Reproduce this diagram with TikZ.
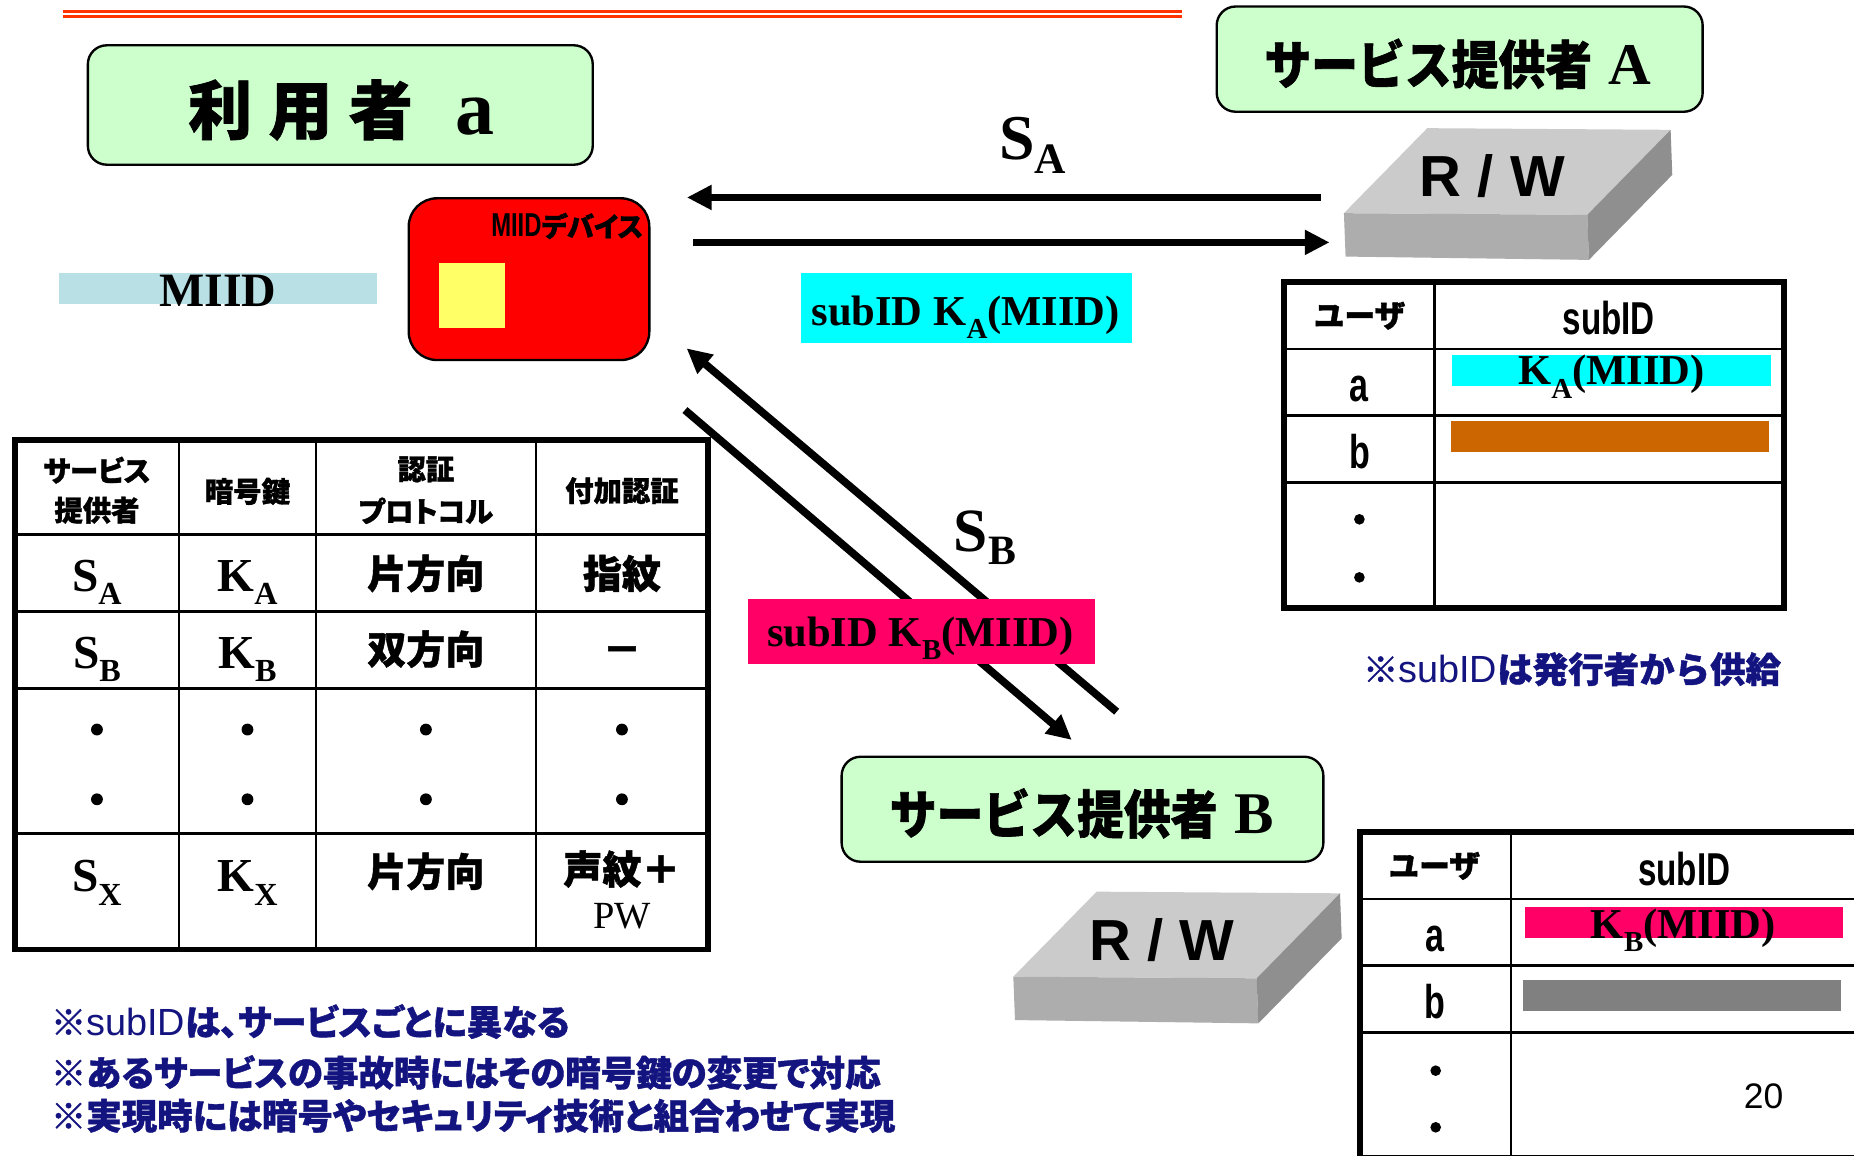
\documentclass[tikz,border=0pt]{standalone}
\usepackage{fontspec}
\usepackage{graphicx}
\usetikzlibrary{arrows.meta}
\setmainfont{Liberation Serif}
\newfontfamily\jp{Noto Sans CJK JP}[BoldFeatures={FakeBold=1.2}]
\newfontfamily\jpp{Noto Sans CJK JP}[RawFeature=+palt,BoldFeatures={FakeBold=1.2}]
\newfontfamily\jpc{Noto Sans CJK JP}[FakeStretch=0.9,BoldFeatures={FakeBold=1.2}]
\newfontfamily\tms{Liberation Serif}
\newfontfamily\asf{Liberation Sans}
\newfontfamily\nsf{Liberation Sans}[FakeStretch=0.72]
\newcommand\fsz[1]{\fontsize{#1pt}{#1pt}\selectfont}
% lowered, shrunk subscript letter
\newcommand\lsub[2][0.28]{\raisebox{-#1em}{\scalebox{0.68}{#2}}}

\definecolor{boxgreen}{RGB}{204,255,204}
\definecolor{miidblue}{RGB}{185,224,228}
\definecolor{chipyellow}{RGB}{255,255,102}
\definecolor{cyanbar}{RGB}{0,255,255}
\definecolor{magentabar}{RGB}{255,0,102}
\definecolor{orangebar}{RGB}{204,102,0}
\definecolor{graybar}{RGB}{128,128,128}
\definecolor{rwtop}{RGB}{203,203,203}
\definecolor{rwfront}{RGB}{173,173,173}
\definecolor{rwside}{RGB}{143,143,143}
\definecolor{navy}{RGB}{20,20,128}
\definecolor{titlered}{RGB}{255,51,0}

\begin{document}
\begin{tikzpicture}[x=1pt,y=-1pt,
  txt/.style={inner sep=0pt,outer sep=0pt},
  greenbox/.style={draw=black,line width=2pt,fill=boxgreen,rounded corners=16pt,inner sep=0pt},
  bigarrow/.style={line width=6.5pt,-{Triangle[length=21pt,width=20pt]}},
  outerframe/.style={line width=4.8pt},
  innerline/.style={line width=2.3pt},
  dotmark/.style={circle,fill=black,inner sep=0pt,minimum size=9pt},
  bar/.style={inner sep=0pt,outer sep=0pt},
  note/.style={txt,anchor=west,text=navy,font=\jpp\bfseries\fsz{30}},
]
\useasboundingbox (0,0) rectangle (1568,977);
\clip (0,0) rectangle (1568,977);
\fill[white] (0,0) rectangle (1568,977);

% heading rule
\draw[titlered,line width=2.5pt] (53,9.6) -- (1000,9.6);
\draw[titlered,line width=2.5pt] (53,13.8) -- (1000,13.8);

% ---------- user side ----------
\node[greenbox,minimum width=427pt,minimum height=101pt] (userbox) at (287.8,88.8) {};
\node[txt,font=\jp\bfseries\fsz{54}] (usertxt) at (288.7,93)
  {利\hspace{14pt}用\hspace{14pt}者\hspace{36pt}{\tms\fsz{66}a}};

\node[bar,fill=miidblue,minimum width=268.6pt,minimum height=25.9pt] (miidbar) at (184.6,244.2) {};
\node[txt,anchor=base,font=\tms\bfseries\fsz{40.5}] (miidtxt) at (184.2,259.4) {MIID};

\node[draw=black,line width=2pt,fill=red,rounded corners=24pt,minimum width=203.5pt,minimum height=136.8pt] (device) at (447.4,236.1) {};
\node[bar,fill=chipyellow,minimum width=55.7pt,minimum height=54.9pt] (chip) at (399.2,249.7) {};
\node[txt,anchor=base east] (devtxt) at (544,200.2)
  {{\nsf\bfseries\fsz{28}MIID}{\jpp\bfseries\fsz{23}デバイス}};

% ---------- provider A ----------
\node[greenbox,minimum width=411pt,minimum height=89pt] (provA) at (1234.5,50) {};
\node[txt,font=\jpc\bfseries\fsz{44}] (provAtxt) at (1233,54)
  {サービス提供者\hspace{14pt}{\tms\fsz{50}A}};

\begin{scope}[shift={(1136.6,180.3)}]
  \fill[rwtop] (0,0) -- (205.8,1.4) -- (276.3,-70.5) -- (70.5,-71.9) -- cycle;
  \fill[rwfront] (0,0) -- (205.8,1.4) -- (207.2,39.5) -- (1.4,36.7) -- cycle;
  \fill[rwside] (205.8,1.4) -- (276.3,-70.5) -- (277.7,-32.4) -- (207.2,39.5) -- cycle;
  \node[txt,font=\asf\bfseries\fsz{49}] (rwA) at (125.5,-31) {R / W};
\end{scope}

% ---------- provider B ----------
\node[greenbox,minimum width=407.4pt,minimum height=88.8pt] (provB) at (915.5,684.4) {};
\node[txt,font=\jpc\bfseries\fsz{44}] (provBtxt) at (914.8,688)
  {サービス提供者\hspace{14pt}{\tms\fsz{50}B}};

\begin{scope}[shift={(857,826)}]
  \fill[rwtop] (0,0) -- (205.8,1.4) -- (276.3,-70.5) -- (70.5,-71.9) -- cycle;
  \fill[rwfront] (0,0) -- (205.8,1.4) -- (207.2,39.5) -- (1.4,36.7) -- cycle;
  \fill[rwside] (205.8,1.4) -- (276.3,-70.5) -- (277.7,-32.4) -- (207.2,39.5) -- cycle;
  \node[txt,font=\asf\bfseries\fsz{49}] (rwB) at (125.5,-31) {R / W};
\end{scope}

% ---------- exchanges ----------
\coordinate (saFrom) at (1117,167);
\coordinate (saTo) at (580.9,167);
\coordinate (kaFrom) at (586.5,205);
\coordinate (kaTo) at (1124.5,205);
\draw[bigarrow] (saFrom) -- (saTo);
\draw[bigarrow] (kaFrom) -- (kaTo);
\node[txt,anchor=base,font=\tms\bfseries\fsz{54}] (sA) at (873.5,135.3) {S\lsub[0.21]{A}};

\node[bar,fill=cyanbar,minimum width=280.2pt,minimum height=58.6pt] (kaLabelBox) at (817.2,260.5) {};
\node[txt,anchor=base,font=\tms\bfseries\fsz{36}] (kaLabel) at (816.7,275)
  {subID K\lsub[0.31]{A}(MIID)};

\coordinate (sbFrom) at (944.4,601.9);
\coordinate (sbTo) at (580.7,294.6);
\coordinate (kbFrom) at (579.3,346.8);
\coordinate (kbTo) at (906.4,625.8);
\draw[bigarrow] (sbFrom) -- (sbTo);
\draw[bigarrow] (kbFrom) -- (kbTo);
\node[txt,anchor=base,font=\tms\bfseries\fsz{52}] (sB) at (833,466.6) {S\lsub[0.21]{B}};

\node[bar,fill=magentabar,minimum width=293.1pt,minimum height=54.9pt] (kbLabelBox) at (779.5,534.4) {};
\node[txt,anchor=base,font=\tms\bfseries\fsz{36}] (kbLabel) at (778.4,547)
  {subID K\lsub[0.31]{B}(MIID)};

% ---------- service table ----------
\draw[outerframe] (12.5,372) rectangle (598.5,803);
\foreach \cx in {151.4,267.2,453.2} \draw[innerline] (\cx,372) -- (\cx,803);
\foreach \ry in {452,517,582,705} \draw[innerline] (12.5,\ry) -- (598.5,\ry);

\node[txt,font=\jpp\bfseries\fsz{24}] (h1a) at (82,397.6) {サービス};
\node[txt,font=\jpp\bfseries\fsz{24}] (h1b) at (82,431.5) {提供者};
\node[txt,font=\jpp\bfseries\fsz{24}] (h2) at (209.3,415.6) {暗号鍵};
\node[txt,font=\jpp\bfseries\fsz{24}] (h3a) at (360.2,397) {認証};
\node[txt,font=\jpp\bfseries\fsz{24}] (h3b) at (360.2,432) {プロトコル};
\node[txt,font=\jpp\bfseries\fsz{24}] (h4) at (526,415) {付加認証};

\node[txt,anchor=base,font=\tms\bfseries\fsz{40}] (rAs) at (82,500) {S\lsub[0.29]{A}};
\node[txt,anchor=base,font=\tms\bfseries\fsz{40}] (rAk) at (209.3,500) {K\lsub[0.29]{A}};
\node[txt,font=\jp\bfseries\fsz{33}] (rAp) at (360.2,485) {片方向};
\node[txt,font=\jp\bfseries\fsz{33}] (rAx) at (526,485) {指紋};

\node[txt,anchor=base,font=\tms\bfseries\fsz{40}] (rBs) at (82,565) {S\lsub[0.29]{B}};
\node[txt,anchor=base,font=\tms\bfseries\fsz{40}] (rBk) at (209.3,565) {K\lsub[0.29]{B}};
\node[txt,font=\jp\bfseries\fsz{33}] (rBp) at (360.2,549) {双方向};
\node[txt,font=\jp\bfseries\fsz{33}] (rBx) at (526,554) {－};

\foreach \cx/\nm in {82/a,209.3/b,360.2/c,526/d} {
  \node[dotmark,minimum size=10pt] (dot1\nm) at (\cx,617) {};
  \node[dotmark,minimum size=10pt] (dot2\nm) at (\cx,676) {};
}

\node[txt,anchor=base,font=\tms\bfseries\fsz{40}] (rXs) at (82,754) {S\lsub[0.29]{X}};
\node[txt,anchor=base,font=\tms\bfseries\fsz{40}] (rXk) at (209.3,754) {K\lsub[0.29]{X}};
\node[txt,font=\jp\bfseries\fsz{33}] (rXp) at (360.2,737) {片方向};
\node[txt,font=\jp\bfseries\fsz{33}] (rXx) at (526,735) {声紋＋};
\node[txt,anchor=base,font=\tms\fsz{32.5}] (rXpw) at (526,785) {PW};

% ---------- subID table of provider A ----------
\fill[cyanbar] (1228.4,300.2) rectangle (1497.8,326.5);
\fill[orangebar] (1227.5,356) rectangle (1496,382);
\draw[outerframe] (1086,238.6) rectangle (1508.5,514);
\draw[innerline] (1213,238.6) -- (1213,514);
\foreach \ry in {295.2,351.6,407.9} \draw[innerline] (1086,\ry) -- (1508.5,\ry);
\node[txt,font=\jp\bfseries\fsz{26}] (tAuser) at (1149.8,267) {ユーザ};
\node[txt,anchor=base,font=\nsf\bfseries\fsz{39}] (tAsub) at (1360.5,283.3) {subID};
\node[txt,anchor=base,font=\nsf\bfseries\fsz{40}] (tAa) at (1149.7,339.7) {a};
\node[txt,anchor=base,font=\nsf\bfseries\fsz{40}] (tAb) at (1149.7,396.1) {b};
\node[txt,anchor=base,font=\tms\bfseries\fsz{36}] (tAka) at (1362.8,325.6) {K\lsub[0.31]{A}(MIID)};
\node[dotmark] (tAd1) at (1149.7,439.2) {};
\node[dotmark] (tAd2) at (1149.7,488.3) {};
\node[txt,anchor=west,text=navy,font=\jp\bfseries\fsz{30}] (tAnote) at (1152.7,566)
  {※{\asf\mdseries\fsz{32}subID}は発行者から供給};

% ---------- subID table of provider B ----------
\fill[magentabar] (1289.7,767.4) rectangle (1558.4,793);
\fill[graybar] (1287.8,828.8) rectangle (1557,854.8);
\draw[outerframe] (1150.3,703.8) rectangle (1571,979.2);
\draw[innerline] (1278,703.8) -- (1278,979.2);
\foreach \ry in {760.3,816.7,873.1} \draw[innerline] (1150.3,\ry) -- (1571,\ry);
\node[txt,font=\jp\bfseries\fsz{26}] (tBuser) at (1213,732.3) {ユーザ};
\node[txt,anchor=base,font=\nsf\bfseries\fsz{39}] (tBsub) at (1424.4,748.5) {subID};
\node[txt,anchor=base,font=\nsf\bfseries\fsz{40}] (tBa) at (1213.7,804.9) {a};
\node[txt,anchor=base,font=\nsf\bfseries\fsz{40}] (tBb) at (1213.7,861.2) {b};
\node[txt,anchor=base,font=\tms\bfseries\fsz{36}] (tBkb) at (1423.7,793.6) {K\lsub[0.31]{B}(MIID)};
\node[dotmark] (tBd1) at (1214.2,905.5) {};
\node[dotmark] (tBd2) at (1214.2,953.4) {};
\node[txt,anchor=base,font=\asf\fsz{30}] (pageno) at (1491.6,937.3) {20};

% ---------- remarks ----------
\node[note] (note1) at (43,864) {※{\asf\mdseries\fsz{32}subID}は、サービスごとに異なる};
\node[note] (note2) at (43,907) {※あるサービスの事故時にはその暗号鍵の変更で対応};
\node[note] (note3) at (43,943.7) {※実現時には暗号やセキュリティ技術と組合わせて実現};
\end{tikzpicture}
\end{document}
